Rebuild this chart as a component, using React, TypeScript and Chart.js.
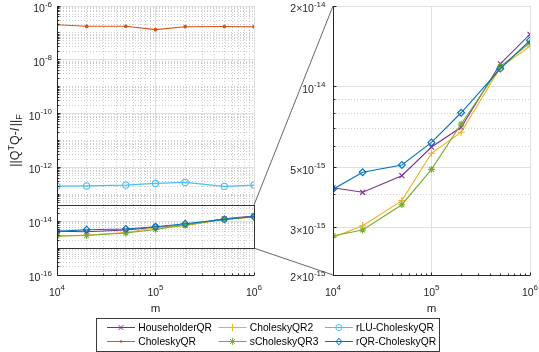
import { useEffect, useRef } from 'react';
import { Chart, registerables } from 'chart.js';

Chart.register(...registerables);

// ---------------- data ----------------
const mValues = [1e4, 2e4, 5e4, 1e5, 2e5, 5e5, 1e6];
const householderQR = [4.22e-15, 4.06e-15, 4.68e-15, 5.98e-15, 7.08e-15, 1.22e-14, 1.57e-14];
const choleskyQR = [2.02e-7, 1.76e-7, 1.76e-7, 1.32e-7, 1.7e-7, 1.72e-7, 1.7e-7];
const choleskyQR2 = [2.76e-15, 3.05e-15, 3.78e-15, 5.67e-15, 6.79e-15, 1.18e-14, 1.42e-14];
const sCholeskyQR3 = [2.8e-15, 2.94e-15, 3.65e-15, 4.94e-15, 7.28e-15, 1.19e-14, 1.46e-14];
const rLUCholeskyQR = [2.02e-13, 2.05e-13, 2.2e-13, 2.54e-13, 2.77e-13, 1.97e-13, 2.2e-13];
const rQRCholeskyQR = [4.17e-15, 4.82e-15, 5.13e-15, 6.22e-15, 8.02e-15, 1.17e-14, 1.49e-14];

const seriesLabels = ['HouseholderQR', 'CholeskyQR', 'CholeskyQR2', 'sCholeskyQR3', 'rLU-CholeskyQR', 'rQR-CholeskyQR'];
const seriesValues = [householderQR, choleskyQR, choleskyQR2, sCholeskyQR3, rLUCholeskyQR, rQRCholeskyQR];

// tick labels / axis limits
const xTickValues = [1e4, 1e5, 1e6];
const leftYTickValues = [1e-16, 1e-14, 1e-12, 1e-10, 1e-8, 1e-6];
const rightYTickValues = [2e-15, 3e-15, 5e-15, 1e-14, 2e-14];
const rightYTickMantissas = ['2', '3', '5', '', '2'];
const rightYMinorTickValues = [4e-15, 6e-15, 7e-15, 8e-15, 9e-15];
const leftYRange = [1e-16, 1e-6];
const rightYRange = [2e-15, 2e-14];
const xRange = [1e4, 1e6];
const zoomBoxY = [1e-15, 4e-14];
const xAxisTitle = 'm';

// ---------------- styles ----------------
const seriesColors = ['#7E2F8E', '#D95319', '#EDB120', '#77AC30', '#4DBEEE', '#0072BD'];
const seriesMarkers = ['crossRot', 'dot', 'cross', 'star', 'circle', 'rectRot'];
const seriesMarkerRadius = [3.5, 1.3, 3.6, 3.4, 3.1, 3.4];

const FONT = '"Liberation Sans", Arial, Helvetica, sans-serif';
const AXIS_COLOR = '#262626';
const MAJOR_GRID = '#e0e0e0';
const MINOR_GRID = '#cdcdcd';
const TICK_PX = 10.5;
const SUP_PX = 8;

function minorLogTicks(lo: number, hi: number, majors: number[]) {
  const out: number[] = [];
  const k0 = Math.round(Math.log10(lo));
  const k1 = Math.round(Math.log10(hi));
  for (let k = k0; k < k1; k++) {
    for (let d = 1; d <= 9; d++) {
      const v = d * Math.pow(10, k);
      if (!majors.some((m) => Math.abs(m - v) / v < 1e-6)) out.push(v);
    }
  }
  return out;
}

const xMinorTickValues = minorLogTicks(xRange[0], xRange[1], xTickValues);
const leftYMinorTickValues = minorLogTicks(leftYRange[0], leftYRange[1], leftYTickValues);

const crisp = (p: number) => Math.floor(p) + 0.5;

function expOf(v: number, mant: string) {
  const m = mant ? parseFloat(mant) : 1;
  return Math.round(Math.log10(v / m));
}

function drawPow(ctx: any, mant: string, exp: number, x: number, baseline: number, align: string) {
  const base = (mant ? mant + '×' : '') + '10';
  const sup = String(exp);
  ctx.font = `${TICK_PX}px ${FONT}`;
  const wb = ctx.measureText(base).width;
  ctx.font = `${SUP_PX}px ${FONT}`;
  const ws = ctx.measureText(sup).width;
  const total = wb + ws;
  const x0 = align === 'right' ? x - total : x - total / 2;
  ctx.textAlign = 'left';
  ctx.textBaseline = 'alphabetic';
  ctx.fillStyle = AXIS_COLOR;
  ctx.font = `${TICK_PX}px ${FONT}`;
  ctx.fillText(base, x0, baseline);
  ctx.font = `${SUP_PX}px ${FONT}`;
  ctx.fillText(sup, x0 + wb, baseline - 5.5);
}

function drawMarker(ctx: any, style: string, x: number, y: number, r: number, color: string) {
  ctx.save();
  ctx.strokeStyle = color;
  ctx.fillStyle = color;
  ctx.lineWidth = 1;
  ctx.setLineDash([]);
  ctx.beginPath();
  const d = r * Math.SQRT1_2;
  if (style === 'dot') {
    ctx.arc(x, y, r, 0, Math.PI * 2);
    ctx.fill();
  } else if (style === 'circle') {
    ctx.arc(x, y, r, 0, Math.PI * 2);
    ctx.stroke();
  } else if (style === 'cross') {
    ctx.moveTo(x - r, y); ctx.lineTo(x + r, y);
    ctx.moveTo(x, y - r); ctx.lineTo(x, y + r);
    ctx.stroke();
  } else if (style === 'crossRot') {
    ctx.moveTo(x - d, y - d); ctx.lineTo(x + d, y + d);
    ctx.moveTo(x - d, y + d); ctx.lineTo(x + d, y - d);
    ctx.stroke();
  } else if (style === 'star') {
    ctx.moveTo(x - r, y); ctx.lineTo(x + r, y);
    ctx.moveTo(x, y - r); ctx.lineTo(x, y + r);
    ctx.moveTo(x - d, y - d); ctx.lineTo(x + d, y + d);
    ctx.moveTo(x - d, y + d); ctx.lineTo(x + d, y - d);
    ctx.stroke();
  } else if (style === 'rectRot') {
    ctx.moveTo(x, y - r); ctx.lineTo(x + r * 0.8, y); ctx.lineTo(x, y + r); ctx.lineTo(x - r * 0.8, y);
    ctx.closePath();
    ctx.stroke();
  }
  ctx.restore();
}

function makeDatasets() {
  return seriesLabels.map((label, i) => ({
    label,
    data: mValues.map((m, j) => ({ x: m, y: seriesValues[i][j] })),
    borderColor: seriesColors[i],
    backgroundColor: seriesColors[i],
    borderWidth: 1.1,
    fill: false,
    tension: 0,
    pointStyle: seriesMarkers[i] === 'dot' ? 'circle' : seriesMarkers[i],
    pointRadius: seriesMarkerRadius[i],
    pointBorderWidth: 1.1,
    pointBorderColor: seriesColors[i],
    pointBackgroundColor: seriesMarkers[i] === 'dot' ? seriesColors[i] : 'rgba(0,0,0,0)',
    order: seriesLabels.length - 1 - i,
  }));
}

type Spec = {
  xMinorGrid: boolean;
  yMajor: number[];
  yMant: string[];
  yMinor: number[];
  yLabelGap: number;
  yLabel: boolean;
  zoomBox: boolean;
};

function drawGrid(chart: any, spec: Spec) {
  const { ctx, chartArea: a } = chart;
  const xs = chart.scales.x;
  const ys = chart.scales.y;
  ctx.save();
  ctx.lineWidth = 1;
  ctx.strokeStyle = MINOR_GRID;
  ctx.setLineDash([1, 2]);
  ctx.beginPath();
  if (spec.xMinorGrid) {
    xMinorTickValues.forEach((v) => {
      const p = crisp(xs.getPixelForValue(v));
      ctx.moveTo(p, a.top); ctx.lineTo(p, a.bottom);
    });
  }
  spec.yMinor.forEach((v) => {
    const p = crisp(ys.getPixelForValue(v));
    ctx.moveTo(a.left, p); ctx.lineTo(a.right, p);
  });
  ctx.stroke();
  ctx.setLineDash([]);
  ctx.strokeStyle = MAJOR_GRID;
  ctx.beginPath();
  xTickValues.forEach((v) => {
    const p = crisp(xs.getPixelForValue(v));
    ctx.moveTo(p, a.top); ctx.lineTo(p, a.bottom);
  });
  spec.yMajor.forEach((v) => {
    const p = crisp(ys.getPixelForValue(v));
    ctx.moveTo(a.left, p); ctx.lineTo(a.right, p);
  });
  ctx.stroke();
  ctx.restore();
}

function drawAxes(chart: any, spec: Spec) {
  const { ctx, chartArea: a } = chart;
  const xs = chart.scales.x;
  const ys = chart.scales.y;
  ctx.save();
  // zoom rectangle
  if (spec.zoomBox) {
    const t = crisp(ys.getPixelForValue(zoomBoxY[1]));
    const b = crisp(ys.getPixelForValue(zoomBoxY[0]));
    const l = crisp(xs.getPixelForValue(xRange[0]));
    const r = crisp(xs.getPixelForValue(xRange[1]));
    ctx.strokeStyle = '#333333';
    ctx.lineWidth = 1;
    ctx.strokeRect(l, t, r - l, b - t);
  }
  const L = crisp(a.left);
  const B = crisp(a.bottom);
  ctx.strokeStyle = AXIS_COLOR;
  ctx.lineWidth = 1;
  ctx.beginPath();
  ctx.moveTo(L, a.top);
  ctx.lineTo(L, B);
  ctx.lineTo(a.right, B);
  // ticks
  xTickValues.forEach((v) => {
    const p = crisp(xs.getPixelForValue(v));
    ctx.moveTo(p, B); ctx.lineTo(p, B - 3);
  });
  xMinorTickValues.forEach((v) => {
    const p = crisp(xs.getPixelForValue(v));
    ctx.moveTo(p, B); ctx.lineTo(p, B - 2);
  });
  spec.yMajor.forEach((v) => {
    const p = crisp(ys.getPixelForValue(v));
    ctx.moveTo(L, p); ctx.lineTo(L + 3, p);
  });
  spec.yMinor.forEach((v) => {
    const p = crisp(ys.getPixelForValue(v));
    ctx.moveTo(L, p); ctx.lineTo(L + 2, p);
  });
  ctx.stroke();

  // tick labels
  xTickValues.forEach((v) => {
    drawPow(ctx, '', expOf(v, ''), xs.getPixelForValue(v), a.bottom + 20.5, 'center');
  });
  spec.yMajor.forEach((v, i) => {
    const mant = spec.yMant[i] || '';
    drawPow(ctx, mant, expOf(v, mant), a.left - spec.yLabelGap, ys.getPixelForValue(v) + 6, 'right');
  });

  // x title
  ctx.fillStyle = AXIS_COLOR;
  ctx.font = `11.5px ${FONT}`;
  ctx.textAlign = 'center';
  ctx.textBaseline = 'alphabetic';
  ctx.fillText(xAxisTitle, (a.left + a.right) / 2, a.bottom + 36.5);

  // y title  ||Q^T Q-I||_F
  if (spec.yLabel) {
    const segs = [
      { t: '||Q', f: `12.5px ${FONT}`, dy: 0 },
      { t: 'T', f: `9px ${FONT}`, dy: -5.5 },
      { t: 'Q-', f: `12.5px ${FONT}`, dy: 0 },
      { t: 'I', f: `italic 12.5px ${FONT}`, dy: 0 },
      { t: '||', f: `12.5px ${FONT}`, dy: 0 },
      { t: 'F', f: `9px ${FONT}`, dy: 3 },
    ];
    let total = 0;
    const widths = segs.map((s) => {
      ctx.font = s.f;
      const w = ctx.measureText(s.t).width + (s.t === 'I' ? 1.5 : 0);
      total += w;
      return w;
    });
    ctx.save();
    ctx.translate(19, (a.top + a.bottom) / 2);
    ctx.rotate(-Math.PI / 2);
    ctx.textAlign = 'left';
    let x = -total / 2;
    segs.forEach((s, i) => {
      ctx.font = s.f;
      ctx.fillText(s.t, x, s.dy);
      x += widths[i];
    });
    ctx.restore();
  }
  ctx.restore();
}

function drawOverlay(chart: any, left: any) {
  const ctx = chart.ctx;
  const ra = chart.chartArea;
  const la = left.chartArea;
  const ly = left.scales.y;
  ctx.save();
  // connectors
  ctx.strokeStyle = '#404040';
  ctx.lineWidth = 0.8;
  ctx.beginPath();
  ctx.moveTo(la.right, ly.getPixelForValue(zoomBoxY[1]));
  ctx.lineTo(ra.left, ra.top);
  ctx.moveTo(la.right, ly.getPixelForValue(zoomBoxY[0]));
  ctx.lineTo(ra.left, ra.bottom);
  ctx.stroke();

  // legend
  const legendFont = `10.3px ${FONT}`;
  ctx.font = legendFont;
  const nRows = 2;
  const nCols = Math.ceil(seriesLabels.length / nRows);
  const lineLen = 28;
  const textGap = 3.2;
  const padL = 11;
  const padR = 3;
  const colGap = 6.5;
  const colW: number[] = [];
  for (let c = 0; c < nCols; c++) {
    let w = 0;
    for (let r = 0; r < nRows; r++) {
      const idx = c * nRows + r;
      if (idx < seriesLabels.length) w = Math.max(w, ctx.measureText(seriesLabels[idx]).width);
    }
    colW.push(w);
  }
  const boxW = padL + colW.reduce((s, w) => s + lineLen + textGap + w, 0) + colGap * (nCols - 1) + padR;
  const boxH = 32.5;
  const boxL = Math.round(chart.width / 2 - 2 - boxW / 2);
  const boxT = 318;
  ctx.fillStyle = '#ffffff';
  ctx.fillRect(boxL, boxT, boxW, boxH);
  ctx.strokeStyle = '#3a3a3a';
  ctx.lineWidth = 1;
  ctx.strokeRect(boxL + 0.5, boxT + 0.5, Math.round(boxW), Math.round(boxH));
  let cx = boxL + padL;
  for (let c = 0; c < nCols; c++) {
    for (let r = 0; r < nRows; r++) {
      const idx = c * nRows + r;
      if (idx >= seriesLabels.length) continue;
      const y = boxT + 9.7 + r * 14;
      ctx.strokeStyle = seriesColors[idx];
      ctx.lineWidth = 1;
      ctx.beginPath();
      ctx.moveTo(cx, crisp(y));
      ctx.lineTo(cx + lineLen, crisp(y));
      ctx.stroke();
      drawMarker(ctx, seriesMarkers[idx], cx + lineLen / 2, crisp(y), seriesMarkerRadius[idx], seriesColors[idx]);
      ctx.fillStyle = '#000000';
      ctx.font = legendFont;
      ctx.textAlign = 'left';
      ctx.textBaseline = 'middle';
      ctx.fillText(seriesLabels[idx], cx + lineLen + textGap, y + 0.5);
    }
    cx += lineLen + textGap + colW[c] + colGap;
  }
  ctx.restore();
}

function baseOptions(padding: any, yRange: number[]) {
  return {
    responsive: false,
    maintainAspectRatio: false,
    animation: false,
    events: [],
    layout: { padding },
    plugins: { legend: { display: false }, tooltip: { enabled: false }, title: { display: false } },
    scales: {
      x: { type: 'logarithmic', min: xRange[0], max: xRange[1], display: false },
      y: { type: 'logarithmic', min: yRange[0], max: yRange[1], display: false },
    },
  };
}

const leftSpec: Spec = {
  xMinorGrid: true,
  yMajor: leftYTickValues,
  yMant: leftYTickValues.map(() => ''),
  yMinor: leftYMinorTickValues,
  yLabelGap: 5,
  yLabel: true,
  zoomBox: true,
};

const rightSpec: Spec = {
  xMinorGrid: false,
  yMajor: rightYTickValues,
  yMant: rightYTickMantissas,
  yMinor: rightYMinorTickValues,
  yLabelGap: 7.5,
  yLabel: false,
  zoomBox: false,
};

export default function App() {
  const leftRef = useRef<HTMLCanvasElement>(null);
  const rightRef = useRef<HTMLCanvasElement>(null);

  useEffect(() => {
    document.body.style.margin = '0';
    const W = 539;
    const H = 352;
    const left = new Chart(leftRef.current as any, {
      type: 'line',
      data: { datasets: makeDatasets() as any },
      options: baseOptions({ left: 57, right: W - 254, top: 6, bottom: H - 275 }, leftYRange) as any,
      plugins: [
        { id: 'mgridL', beforeDatasetsDraw: (c: any) => drawGrid(c, leftSpec) },
        { id: 'maxesL', afterDatasetsDraw: (c: any) => drawAxes(c, leftSpec) },
      ] as any,
    });
    const right = new Chart(rightRef.current as any, {
      type: 'line',
      data: { datasets: makeDatasets() as any },
      options: baseOptions({ left: 333, right: W - 530, top: 6, bottom: H - 275 }, rightYRange) as any,
      plugins: [
        { id: 'mgridR', beforeDatasetsDraw: (c: any) => drawGrid(c, rightSpec) },
        { id: 'maxesR', afterDatasetsDraw: (c: any) => drawAxes(c, rightSpec) },
        { id: 'overlay', afterDraw: (c: any) => drawOverlay(c, left) },
      ] as any,
    });
    return () => {
      right.destroy();
      left.destroy();
    };
  }, []);

  return (
    <div style={{ position: 'fixed', left: 0, top: 0, width: 539, height: 352, background: '#ffffff', overflow: 'hidden' }}>
      <canvas ref={leftRef} width={539} height={352} style={{ position: 'absolute', left: 0, top: 0, width: 539, height: 352 }} />
      <canvas ref={rightRef} width={539} height={352} style={{ position: 'absolute', left: 0, top: 0, width: 539, height: 352 }} />
    </div>
  );
}
